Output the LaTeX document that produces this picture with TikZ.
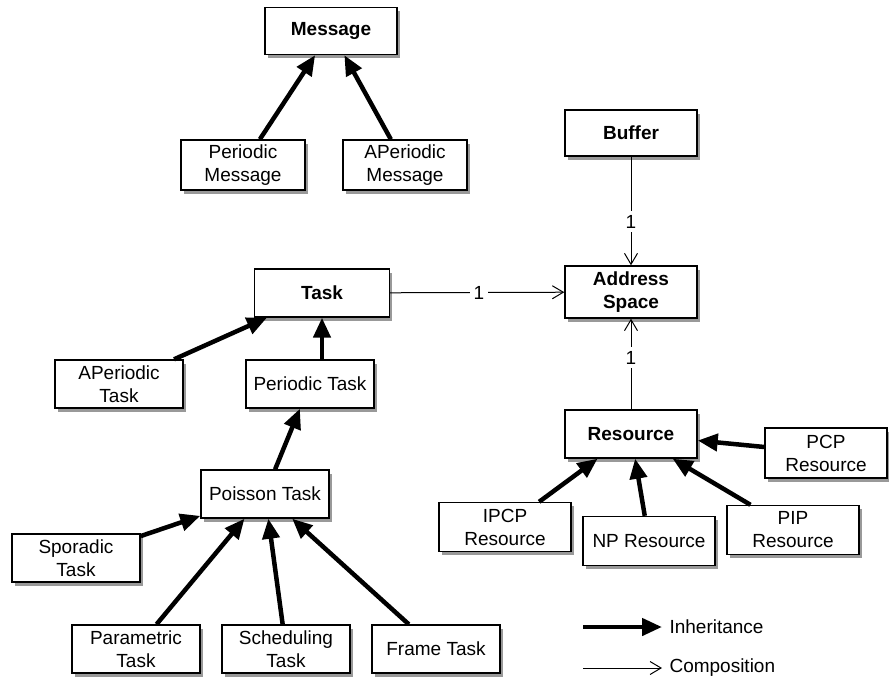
\documentclass[tikz,border=0pt]{standalone}
\usepackage{fontspec}
\setmainfont{Liberation Sans}
\usepackage{tikz}
\usetikzlibrary{arrows.meta,shadows}

\begin{document}
\begin{tikzpicture}[x=1pt,y=-1pt,
	cls/.style={draw,line width=1.4pt,fill=white,align=center,minimum width=128pt,minimum height=48pt,inner sep=1pt,
		font=\fontsize{19}{23}\selectfont,
		drop shadow={shadow xshift=2.5pt,shadow yshift=-3.5pt,fill=black,opacity=.4}},
	base/.style={cls,font=\bfseries\fontsize{19}{23}\selectfont},
	inherit/.style={-{Triangle[length=20pt,width=17pt]},line width=4.5pt},
	compose/.style={-{Straight Barb[length=11pt,width=13pt]},line width=1pt},
	mult/.style={fill=white,inner sep=4pt,font=\fontsize{19}{23}\selectfont},
	legend/.style={anchor=west,font=\fontsize{19}{23}\selectfont}]
	\useasboundingbox (0,0) rectangle (889,683);

		\node[base,minimum width=132pt,minimum height=47pt] (msg) at (331,31) {Message};
		\node[cls,minimum width=124pt,minimum height=50pt] (pmsg) at (243,165) {Periodic\\Message};
		\node[cls,minimum width=124pt,minimum height=50pt] (amsg) at (405,165) {APeriodic\\Message};

		\node[base,minimum width=132pt,minimum height=46pt] (buf) at (631,133) {Buffer};
		\node[base,minimum width=132pt,minimum height=52pt] (as) at (631,292) {Address\\Space};
		\node[base,minimum width=135pt] (task) at (322,293) {Task};

		\node[cls] (atask) at (119,384) {APeriodic\\Task};
		\node[cls] (ptask) at (310,384) {Periodic Task};
		\node[cls] (poisson) at (265,494) {Poisson Task};
		\node[cls] (spor) at (76,558) {Sporadic\\Task};
		\node[cls] (param) at (136,649) {Parametric\\Task};
		\node[cls] (sched) at (286,649) {Scheduling\\Task};
		\node[cls] (frame) at (436,649) {Frame Task};

		\node[base,minimum width=132pt] (res) at (631,434) {Resource};
		\node[cls,minimum width=122pt,minimum height=50pt] (pcp) at (826,453) {PCP\\Resource};
		\node[cls,minimum width=132pt,minimum height=49pt] (ipcp) at (505,527) {IPCP\\Resource};
		\node[cls,minimum width=132pt,minimum height=49pt] (np) at (649,541) {NP Resource};
		\node[cls,minimum width=132pt,minimum height=49pt] (pip) at (793,530) {PIP\\Resource};

		\draw[inherit] (pmsg) edge (msg)
				(amsg) edge (msg)
				(atask) edge (task)
				(poisson) edge (ptask)
				(spor) edge (poisson)
				(param) edge (poisson)
				(sched) edge (poisson)
				(frame) edge (poisson)
				(ipcp) edge (res)
				(np) edge (res)
				(pip) edge (res)
				(pcp) edge (res);
		\draw[inherit] (ptask.north -| task.south) -- (task.south);

		\draw[compose] (task) edge node[mult,pos=.51]{1} (as)
				(buf) edge node[mult,pos=.6]{1} (as)
				(res) edge node[mult,pos=.57]{1} (as);

		\coordinate (inh0) at (583,627);
		\coordinate (inh1) at (662,627);
		\coordinate (comp0) at (583,668);
		\coordinate (comp1) at (662,668);
		\node[legend] (inhtxt) at (666,627) {Inheritance};
		\node[legend] (comptxt) at (666,668) {Composition};
		\draw[inherit] (inh0) -- (inh1);
		\draw[compose] (comp0) -- (comp1);
	\end{tikzpicture}
\end{document}
